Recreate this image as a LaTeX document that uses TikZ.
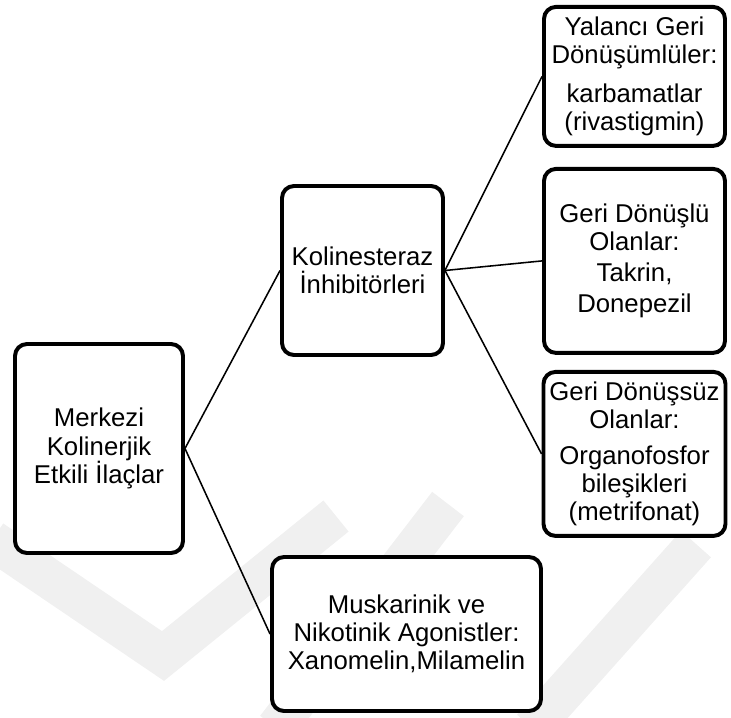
\documentclass[tikz,border=0pt]{standalone}
\usepackage{fontspec}
\setmainfont{Liberation Sans}
\usetikzlibrary{positioning,calc}
\tikzset{
	block/.style = {draw, fill=white, rectangle, rounded corners=0.3cm, line width=2.8pt, align=center, inner sep=1pt, font=\fontsize{18.3}{20}\selectfont},
	link/.style  = {line width=1.1pt},
	wmark/.style = {line width=1cm, color=black!6}
}

\begin{document}
\begin{tikzpicture}[node distance=2.5cm]
	\useasboundingbox (0,0) rectangle (18.275,-17.925);
	% faint background marks
	\draw [wmark] (-0.2,-13.5) -- (4.075,-16.4) -- (8.4,-12.9);
	\draw [wmark] (6.9,-18.2) -- (11.2,-12.6);
	\draw [wmark] (13.3,-18.2) -- (17.4,-13.6);
	% ========================== Nodes ============================
	\node [block, minimum width=4.2cm, minimum height=5.225cm] (merkezi) at (2.475,-11.2125) {Merkezi\\Kolinerjik\\Etkili İlaçlar};
	\node [block, right of=merkezi, node distance=6.5875cm, yshift=4.45cm, minimum width=4.025cm, minimum height=4.225cm] (kolin) {Kolinesteraz\\İnhibitörleri};
	% right column
	\node [block, right of=kolin, node distance=6.8cm, yshift=0.24cm, minimum width=4.525cm, minimum height=4.6cm] (donuslu) {Geri Dönüşlü\\Olanlar:\\[2pt]Takrin,\\[2pt]Donepezil};
	\node [block, above of=donuslu, node distance=4.6125cm, minimum width=4.525cm, minimum height=3.475cm] (yalanci) {Yalancı Geri\\Dönüşümlüler:\\[8pt]karbamatlar\\(rivastigmin)};
	\node [block, below of=donuslu, node distance=4.825cm, minimum width=4.55cm, minimum height=4.1cm] (donussuz) {Geri Dönüşsüz\\Olanlar:\\[5pt]Organofosfor\\bileşikleri\\(metrifonat)};
	% lower branch
	\node [block, below of=kolin, node distance=9.0875cm, xshift=1.1cm, minimum width=6.725cm, minimum height=3.85cm] (muskar) {Muskarinik ve\\Nikotinik Agonistler:\\Xanomelin,Milamelin};

	% ========================== Lines ============================
	\draw [link] (merkezi.east) -- (kolin.west);
	\draw [link] (merkezi.east) -- (muskar.west);

	\draw [link] (kolin.east) -- (yalanci.west);
	\draw [link] (kolin.east) -- (donuslu.west);
	\draw [link] (kolin.east) -- (donussuz.west);
\end{tikzpicture}
\end{document}
